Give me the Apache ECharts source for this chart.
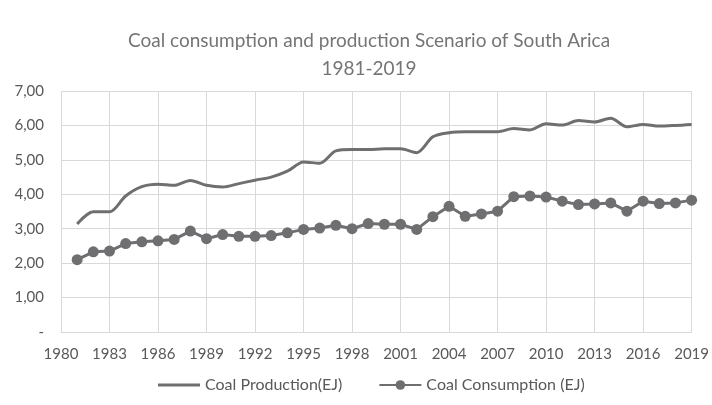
<!DOCTYPE html>
<html>
<head>
<meta charset="utf-8">
<script src="https://cdn.jsdelivr.net/npm/echarts@6/dist/echarts.min.js"></script>
<style>
  html, body { margin: 0; padding: 0; background: #fff; }
  #chart { width: 712px; height: 405px; }
</style>
</head>
<body>
<div id="chart"></div>
<script>
// 1980 has no value; series run 1981-2019
const years = [];
for (let y = 1980; y <= 2019; y++) years.push(String(y));

const production = [null,
  3.14, 3.49, 3.49, 3.95, 4.22, 4.29, 4.26, 4.40, 4.26, 4.21,
  4.31, 4.41, 4.50, 4.67, 4.94, 4.90, 5.26, 5.30, 5.30, 5.32,
  5.32, 5.21, 5.67, 5.79, 5.82, 5.82, 5.82, 5.91, 5.87, 6.05,
  6.01, 6.14, 6.10, 6.21, 5.96, 6.03, 5.98, 6.00, 6.03];

const consumption = [null,
  2.10, 2.33, 2.35, 2.57, 2.62, 2.65, 2.69, 2.93, 2.71, 2.83,
  2.78, 2.78, 2.80, 2.88, 2.98, 3.02, 3.10, 3.00, 3.15, 3.13,
  3.13, 2.98, 3.35, 3.65, 3.36, 3.43, 3.51, 3.93, 3.95, 3.92,
  3.80, 3.70, 3.72, 3.75, 3.51, 3.80, 3.73, 3.75, 3.83];

const font = "Lato, 'Open Sans', sans-serif";
const grey = "#6f6f72";

const chart = echarts.init(document.getElementById("chart"), null, { renderer: "canvas" });

chart.setOption({
  animation: false,
  textStyle: { fontFamily: font },
  title: {
    text: "Coal consumption and production Scenario of South Arica\n1981-2019",
    left: 364,
    top: 22,
    textAlign: "center",
    textStyle: { fontFamily: font, fontSize: 19, fontWeight: "normal", color: "#757575", lineHeight: 28 }
  },
  legend: {
    top: 372,
    left: 153,
    itemWidth: 42,
    itemHeight: 12,
    itemGap: 36,
    textStyle: { fontFamily: font, fontSize: 16, color: "#595959" },
    data: [
      { name: "Coal Production(EJ)", icon: "path://M0,0H42V3H0Z" },
      { name: "Coal Consumption (EJ)" }
    ]
  },
  grid: { left: 61, right: 19, top: 91, bottom: 73 },
  xAxis: {
    type: "category",
    data: years,
    boundaryGap: false,
    axisLine: { show: true, lineStyle: { color: "#d9d9d9" } },
    axisTick: { show: false },
    axisLabel: { interval: 2, color: "#595959", fontSize: 15, margin: 15, fontFamily: font },
    splitLine: { show: true, interval: 2, lineStyle: { color: "#d9d9d9", width: 1 } }
  },
  yAxis: {
    type: "value",
    min: 0,
    max: 7,
    interval: 1,
    axisLine: { show: false },
    axisTick: { show: false },
    axisLabel: {
      color: "#595959",
      fontSize: 15,
      margin: 17,
      fontFamily: font,
      formatter: v => v === 0 ? "-" : v.toFixed(2).replace(".", ",")
    },
    splitLine: { lineStyle: { color: "#d9d9d9", width: 1 } }
  },
  series: [
    {
      name: "Coal Production(EJ)",
      type: "line",
      data: production,
      smooth: 0.3,
      symbol: "none",
      lineStyle: { color: grey, width: 3 },
      itemStyle: { color: grey }
    },
    {
      name: "Coal Consumption (EJ)",
      type: "line",
      data: consumption,
      symbol: "circle",
      symbolSize: 11,
      showAllSymbol: true,
      lineStyle: { color: grey, width: 3 },
      itemStyle: { color: grey }
    }
  ]
});
</script>
</body>
</html>
